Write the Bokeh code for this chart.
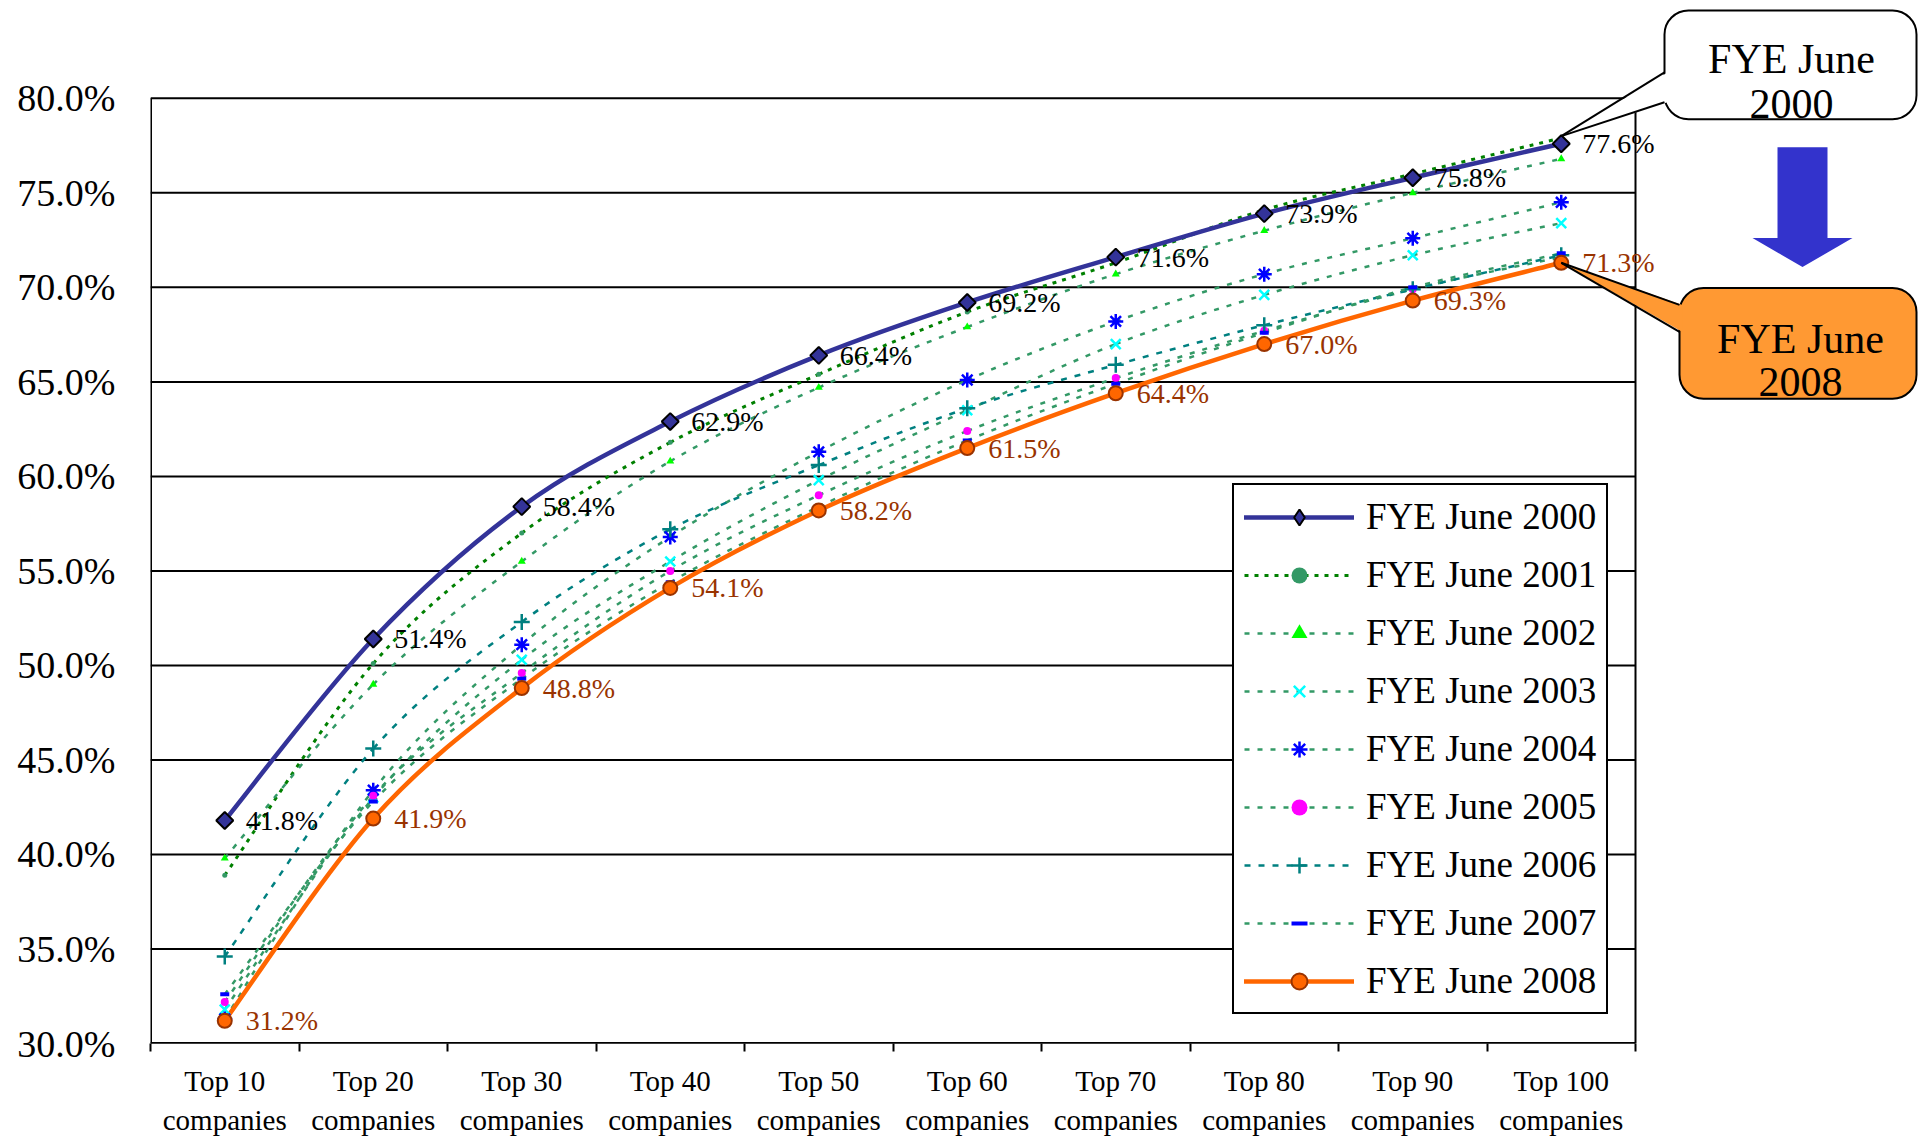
import numpy as np
from bokeh.plotting import figure
from bokeh.models import Range1d, FixedTicker, Legend, LegendItem, BoxAnnotation, PrintfTickFormatter
from bokeh.core.properties import value
from bokeh.embed import file_html
from bokeh.resources import INLINE

# ---------------- data ----------------
categories = ["Top 10", "Top 20", "Top 30", "Top 40", "Top 50",
              "Top 60", "Top 70", "Top 80", "Top 90", "Top 100"]
category_suffix = "companies"
series_names = ["FYE June 2000", "FYE June 2001", "FYE June 2002", "FYE June 2003",
                "FYE June 2004", "FYE June 2005", "FYE June 2006", "FYE June 2007",
                "FYE June 2008"]
fye2000 = [41.8, 51.4, 58.4, 62.9, 66.4, 69.2, 71.6, 73.9, 75.8, 77.6]
fye2001 = [38.9, 50.1, 57.0, 61.8, 65.4, 68.7, 71.3, 74.1, 76.0, 77.9]
fye2002 = [39.8, 49.0, 55.5, 60.8, 64.7, 67.9, 70.7, 73.0, 75.0, 76.8]
fye2003 = [31.8, 43.0, 50.3, 55.5, 59.8, 63.5, 67.0, 69.6, 71.7, 73.4]
fye2004 = [31.3, 43.4, 51.1, 56.8, 61.3, 65.1, 68.2, 70.7, 72.6, 74.5]
fye2005 = [32.2, 43.1, 49.6, 55.0, 59.0, 62.4, 65.2, 67.7, 69.9, 71.6]
fye2006 = [34.6, 45.6, 52.3, 57.2, 60.6, 63.6, 65.9, 68.0, 69.9, 71.7]
fye2007 = [32.6, 42.8, 49.3, 54.4, 58.4, 61.9, 64.9, 67.6, 70.0, 71.8]
fye2008 = [31.2, 41.9, 48.8, 54.1, 58.2, 61.5, 64.4, 67.0, 69.3, 71.3]
y_ticks = [30.0, 35.0, 40.0, 45.0, 50.0, 55.0, 60.0, 65.0, 70.0, 75.0, 80.0]
callout_top = ["FYE June", "2000"]
callout_bottom = ["FYE June", "2008"]

all_series = [fye2000, fye2001, fye2002, fye2003, fye2004, fye2005, fye2006, fye2007, fye2008]

# ---------------- layout (canvas pixels) ----------------
FONT = "Liberation Serif"
FRAME_L, FRAME_T = 150, 8
FRAME_W, FRAME_H = 1768, 1037
BORDER_B = 94
PX_PER_CAT = 148.5
PX_PER_PCT = 18.94
X_END = FRAME_W / PX_PER_CAT
Y0 = y_ticks[0]
Y_END = Y0 + FRAME_H / PX_PER_PCT


def dx(px):
    return (px - FRAME_L) / PX_PER_CAT


def dy(py):
    return Y0 + (FRAME_T + FRAME_H - py) / PX_PER_PCT


n = len(categories)
xpos = np.arange(n) + 0.5

p = figure(width=FRAME_L + FRAME_W, height=FRAME_T + FRAME_H + BORDER_B,
           x_range=Range1d(0, X_END), y_range=Range1d(Y0, Y_END),
           output_backend="svg", toolbar_location=None,
           min_border_left=FRAME_L, min_border_right=0,
           min_border_top=FRAME_T, min_border_bottom=BORDER_B)
p.outline_line_color = None
p.xgrid.visible = False
p.ygrid.visible = False
p.background_fill_color = "white"
p.border_fill_color = "white"

# x axis: labels at category centres, tick marks at category boundaries
xa = p.xaxis[0]
xa.ticker = FixedTicker(ticks=[float(v) for v in xpos],
                        minor_ticks=[float(v) for v in np.arange(n + 1)])
xa.major_label_overrides = {float(v): f"{c}\n{category_suffix}" for v, c in zip(xpos, categories)}
xa.axis_line_color = None
xa.major_tick_out = 0
xa.major_tick_in = 0
xa.major_tick_line_color = None
xa.minor_tick_line_color = "black"
xa.minor_tick_line_width = 2
xa.minor_tick_out = 8
xa.minor_tick_in = 0
xa.major_label_text_font = FONT
xa.major_label_text_font_size = "29px"
xa.major_label_text_color = "black"
xa.major_label_text_line_height = 1.24
xa.major_label_standoff = 13

ya = p.yaxis[0]
ya.ticker = FixedTicker(ticks=y_ticks, minor_ticks=[])
ya.formatter = PrintfTickFormatter(format="%.1f%%")
ya.axis_line_color = None
ya.major_tick_out = 0
ya.major_tick_in = 0
ya.minor_tick_out = 0
ya.minor_tick_in = 0
ya.major_label_text_font = FONT
ya.major_label_text_font_size = "38px"
ya.major_label_text_color = "black"
ya.major_label_standoff = 35

# gridlines and plot box
p.segment(x0=[0] * len(y_ticks), x1=[n] * len(y_ticks), y0=y_ticks, y1=y_ticks,
          line_color="black", line_width=2)
p.segment(x0=[0, 0], x1=[0, n], y0=[y_ticks[0], y_ticks[0]], y1=[y_ticks[-1], y_ticks[0]],
          line_color="black", line_width=3)
p.segment(x0=[n], x1=[n], y0=[y_ticks[0]], y1=[y_ticks[-1]], line_color="black", line_width=2)

# ---------------- series styles ----------------
styles = [
    dict(lc="#333399", lw=4.5, dash="solid", marker="square", angle=np.pi / 4, size=12,
         legend_marker="diamond", fill="#333399", mline="black", mlw=2),
    dict(lc="#008000", lw=3, dash="4 6", marker="circle", angle=0, size=5,
         legend_marker="circle", fill="#339966", mline=None, mlw=0),
    dict(lc="#339966", lw=2.5, dash="5 8", marker="triangle", angle=0, size=8,
         legend_marker="triangle", fill="#00FF00", mline=None, mlw=0),
    dict(lc="#339966", lw=2.5, dash="5 8", marker="x", angle=0, size=14,
         legend_marker="x", fill=None, mline="#00FFFF", mlw=2.5),
    dict(lc="#339966", lw=2.5, dash="5 8", marker="asterisk", angle=0, size=15,
         legend_marker="asterisk", fill=None, mline="#0000FF", mlw=2.5),
    dict(lc="#339966", lw=2.5, dash="5 8", marker="circle", angle=0, size=8,
         legend_marker="circle", fill="#FF00FF", mline=None, mlw=0),
    dict(lc="#008080", lw=2.5, dash="6 8", marker="cross", angle=0, size=16,
         legend_marker="cross", fill=None, mline="#008080", mlw=2.5),
    dict(lc="#339966", lw=2.5, dash="5 8", marker="dash", angle=0, size=9,
         legend_marker="dash", fill=None, mline="#0000FF", mlw=4),
    dict(lc="#FF6600", lw=4.5, dash="solid", marker="circle", angle=0, size=14,
         legend_marker="circle", fill="#FF6600", mline="#993300", mlw=2),
]


def smooth_segments(x, y):
    """Bezier control points (Catmull-Rom style) for a smoothed line through the points."""
    x = np.asarray(x, float)
    y = np.asarray(y, float)
    xp = np.concatenate([[x[0]], x, [x[-1]]])
    yp = np.concatenate([[y[0]], y, [y[-1]]])
    m = len(x)
    P0x, P1x, P2x, P3x = xp[0:m - 1], xp[1:m], xp[2:m + 1], xp[3:m + 2]
    P0y, P1y, P2y, P3y = yp[0:m - 1], yp[1:m], yp[2:m + 1], yp[3:m + 2]
    return dict(x0=P1x, y0=P1y, x1=P2x, y1=P2y,
                cx0=P1x + (P2x - P0x) / 6, cy0=P1y + (P2y - P0y) / 6,
                cx1=P2x - (P3x - P1x) / 6, cy1=P2y - (P3y - P1y) / 6)


draw_order = [1, 2, 3, 4, 5, 6, 7, 0, 8]
for i in draw_order:
    st = styles[i]
    seg = smooth_segments(xpos, all_series[i])
    p.bezier(**seg, line_color=st["lc"], line_width=st["lw"], line_dash=st["dash"],
             line_cap="round" if st["dash"] == "solid" else "butt")

for i in draw_order:
    st = styles[i]
    p.scatter(x=xpos, y=all_series[i], marker=st["marker"], size=st["size"], angle=st["angle"],
              fill_color=st["fill"], line_color=st["mline"], line_width=st["mlw"])

# data labels
p.text(x=xpos, y=fye2000, text=[f"{v:.1f}%" for v in fye2000], x_offset=21,
       text_baseline="middle", text_align="left", text_font=value(FONT),
       text_font_size="28px", text_color="black")
p.text(x=xpos, y=fye2008, text=[f"{v:.1f}%" for v in fye2008], x_offset=21,
       text_baseline="middle", text_align="left", text_font=value(FONT),
       text_font_size="28px", text_color="#993300")

# legend (NaN-only proxy glyphs: they draw nothing in the plot, only the legend swatches)
items = []
for i, name in enumerate(series_names):
    st = styles[i]
    proxy_line = p.line(x=[np.nan], y=[np.nan], line_color=st["lc"], line_width=st["lw"],
                        line_dash=st["dash"],
                        line_cap="round" if st["dash"] == "solid" else "butt")
    proxy_mark = p.scatter(x=[np.nan], y=[np.nan], marker=st["legend_marker"], size=st["size"],
                           fill_color=st["fill"], line_color=st["mline"], line_width=st["mlw"])
    items.append(LegendItem(label=name, renderers=[proxy_line, proxy_mark]))
legend = Legend(items=items, location=(1232 - FRAME_L, (FRAME_T + FRAME_H) - 1016),
                label_text_font=FONT, label_text_font_size="37px", label_text_color="black",
                border_line_color="black", border_line_width=2.5, border_line_alpha=1.0,
                background_fill_color="white", background_fill_alpha=1.0,
                padding=10, spacing=15, margin=0, glyph_width=110, glyph_height=40,
                label_height=40, label_standoff=12)
p.add_layout(legend)

# ---------------- callouts ----------------
last = n - 1
p.add_layout(BoxAnnotation(left=dx(1664), right=dx(1916), top=dy(10), bottom=dy(119),
                           fill_color="white", fill_alpha=1.0, line_color="black",
                           line_alpha=1.0, line_width=2, border_radius=24))
tip1 = (xpos[last], fye2000[last] + 0.4)
w1 = p.patch(x=[tip1[0], dx(1667), dx(1667)], y=[tip1[1], dy(72), dy(102)],
             fill_color="white", line_color=None)
w1.level = "overlay"
l1 = p.segment(x0=[tip1[0], tip1[0]], y0=[tip1[1], tip1[1]], x1=[dx(1664), dx(1664)],
               y1=[dy(72), dy(102)], line_color="black", line_width=2)
l1.level = "overlay"
t1 = p.text(x=[dx(1791), dx(1791)], y=[dy(59), dy(104)], text=callout_top,
            text_align="center", text_baseline="alphabetic", text_font=value(FONT),
            text_font_size="42px", text_color="black")
t1.level = "overlay"

p.patch(x=[dx(1777), dx(1827), dx(1827), dx(1852), dx(1802), dx(1752), dx(1777)],
        y=[dy(147), dy(147), dy(238), dy(238), dy(267), dy(238), dy(238)],
        fill_color="#3333CC", line_color=None)

p.add_layout(BoxAnnotation(left=dx(1679), right=dx(1916), top=dy(288), bottom=dy(399),
                           fill_color="#FF9933", fill_alpha=1.0, line_color="black",
                           line_alpha=1.0, line_width=2, border_radius=24))
tip2 = (xpos[last], fye2008[last])
w2 = p.patch(x=[tip2[0], dx(1682), dx(1682)], y=[tip2[1], dy(305), dy(332)],
             fill_color="#FF9933", line_color=None)
w2.level = "overlay"
l2 = p.segment(x0=[tip2[0], tip2[0]], y0=[tip2[1], tip2[1]], x1=[dx(1679), dx(1679)],
               y1=[dy(305), dy(332)], line_color="black", line_width=2)
l2.level = "overlay"
t2 = p.text(x=[dx(1800), dx(1800)], y=[dy(339), dy(382)], text=callout_bottom,
            text_align="center", text_baseline="alphabetic", text_font=value(FONT),
            text_font_size="42px", text_color="black")
t2.level = "overlay"

open("out.html", "w").write(file_html(p, INLINE))
